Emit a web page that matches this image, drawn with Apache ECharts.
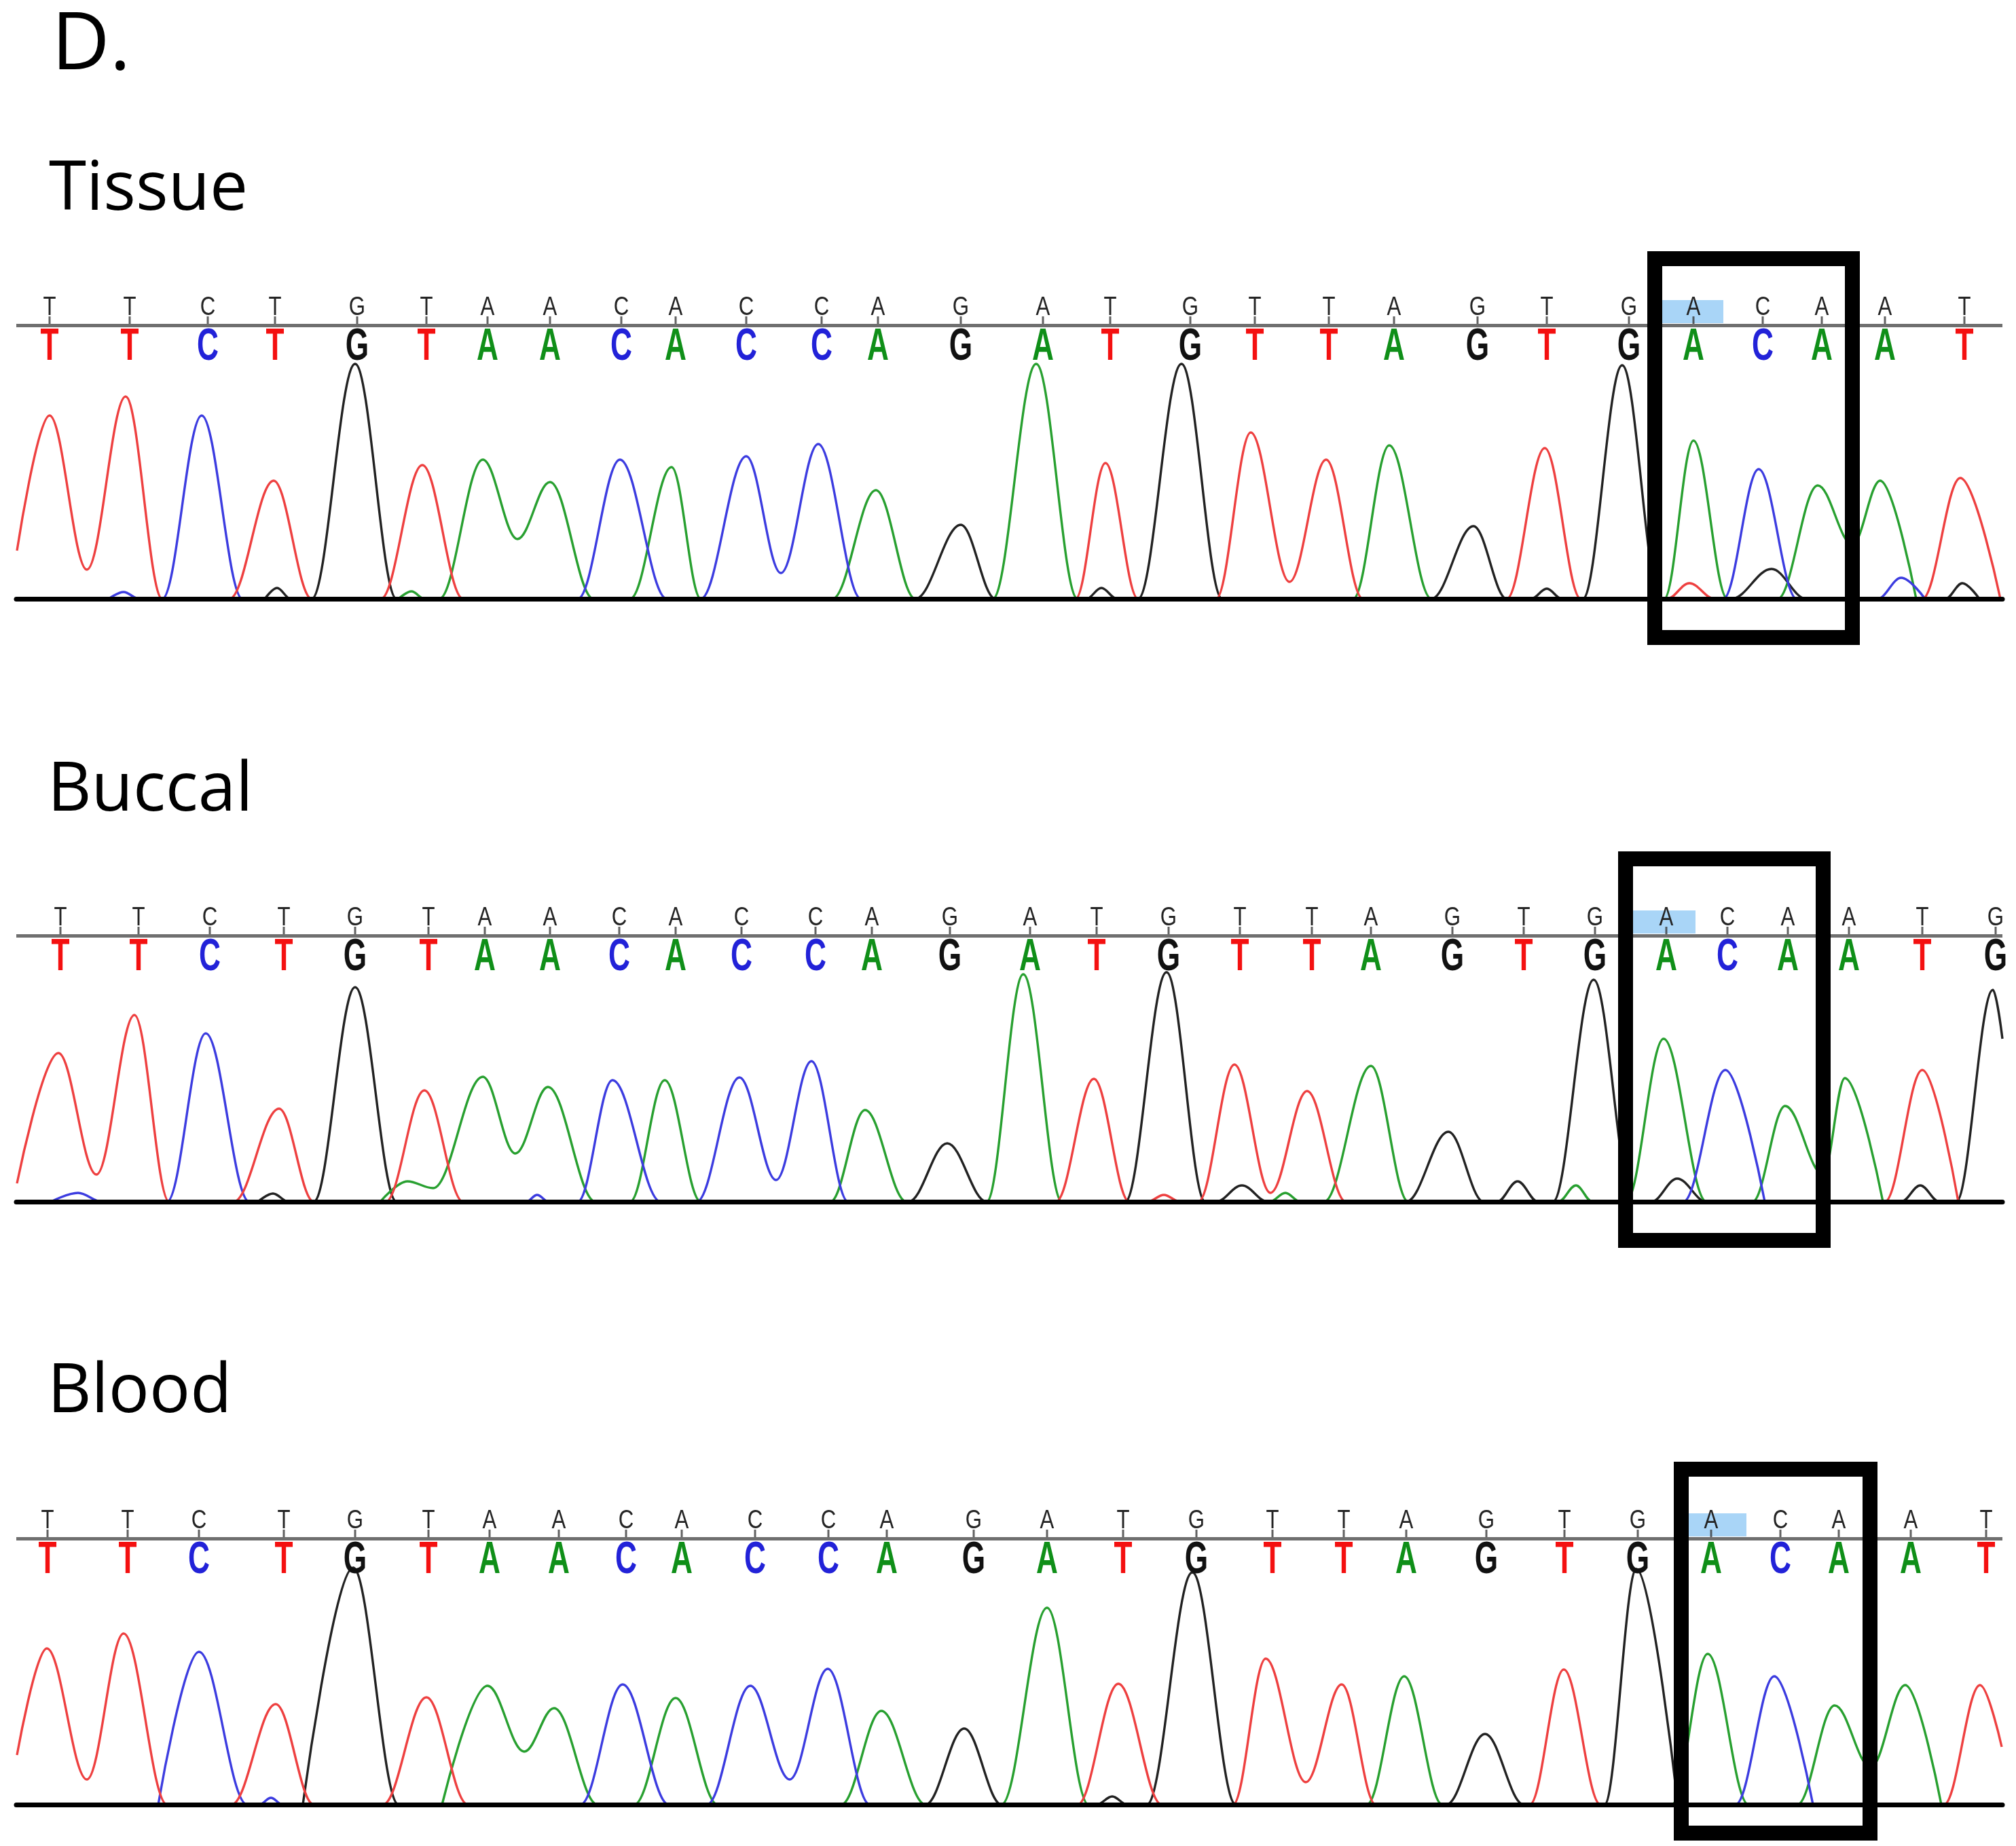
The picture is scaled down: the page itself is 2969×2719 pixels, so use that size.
<!DOCTYPE html>
<html>
<head>
<meta charset="utf-8">
<script src="https://cdn.jsdelivr.net/npm/echarts@6.0.0/dist/echarts.min.js"></script>
<style>html,body{margin:0;padding:0;background:#fff}#c{width:2969px;height:2719px}</style>
</head>
<body>
<div id="c"></div>
<script>
// ---------------- DATA ----------------
// Base calls (identical reference sequence over the three samples)
const tissueSeq = ['T','T','C','T','G','T','A','A','C','A','C','C','A','G','A','T','G','T','T','A','G','T','G','A','C','A','A','T'];
const buccalSeq = ['T','T','C','T','G','T','A','A','C','A','C','C','A','G','A','T','G','T','T','A','G','T','G','A','C','A','A','T','G'];
const bloodSeq  = ['T','T','C','T','G','T','A','A','C','A','C','C','A','G','A','T','G','T','T','A','G','T','G','A','C','A','A','T'];

// Scan positions of the base calls
const tissuePos = [73,191,306,405,526,628,718,810,915,995,1099,1210,1293,1415,1536,1635,1753,1848,1957,2053,2176,2278,2399,2494,2596,2683,2776,2893];
const buccalPos = [89,204,309,418,523,631,714,810,912,995,1092,1201,1284,1399,1517,1615,1721,1826,1932,2019,2139,2244,2349,2454,2544,2633,2723,2831,2939];
const bloodPos  = [70,188,293,418,523,631,721,823,922,1004,1112,1220,1306,1434,1542,1654,1762,1874,1979,2071,2189,2304,2412,2520,2622,2708,2814,2925];

// Traces: [scan, signal]
const tissueT = [[25,71],[73,270],[128,43],[185,298],[239,0],[338,0],[403,174],[459,0],[561,0],[622,197],[682,0],[1584,0],[1628,200],[1676,0],[1791,0],[1842,245],[1899,25],[1953,205],[2007,0],[2219,0],[2275,222],[2328,0],[2455,0],[2488,23],[2525,0],[2831,0],[2887,178],[2946,0]];
const tissueC = [[160,0],[182,10],[205,0],[239,0],[297,270],[357,0],[851,0],[913,205],[982,0],[1032,0],[1099,210],[1150,38],[1205,228],[1268,0],[2538,0],[2590,191],[2646,0],[2765,0],[2800,31],[2835,0]];
const tissueG = [[390,0],[408,16],[428,0],[459,0],[523,346],[584,0],[1348,0],[1415,109],[1466,0],[1600,0],[1622,16],[1645,0],[1676,0],[1740,346],[1800,0],[2108,0],[2170,107],[2219,0],[2255,0],[2278,15],[2300,0],[2331,0],[2389,344],[2445,0],[2550,0],[2609,44],[2660,0],[2865,0],[2890,23],[2915,0]];
const tissueA = [[587,0],[606,11],[625,0],[647,0],[711,205],[762,88],[810,172],[874,0],[928,0],[989,194],[1032,0],[1226,0],[1290,160],[1348,0],[1462,0],[1526,346],[1587,0],[1993,0],[2046,226],[2108,0],[2451,0],[2494,233],[2544,0],[2618,0],[2677,167],[2728,80],[2769,174],[2822,0]];

const buccalT = [[25,27],[86,219],[142,40],[198,275],[249,0],[344,0],[411,137],[462,0],[568,0],[625,164],[682,0],[1555,0],[1611,181],[1663,0],[1690,0],[1714,10],[1738,0],[1765,0],[1818,202],[1871,13],[1925,163],[1982,0],[2776,0],[2831,194],[2884,0]];
const buccalC = [[75,0],[115,13],[150,0],[246,0],[303,248],[367,0],[775,0],[791,10],[808,0],[851,0],[902,179],[973,0],[1026,0],[1089,183],[1143,32],[1195,207],[1249,0],[2479,0],[2541,194],[2599,0]];
const buccalG = [[380,0],[402,12],[425,0],[462,0],[523,316],[584,0],[1338,0],[1395,86],[1453,0],[1657,0],[1718,338],[1775,0],[1791,0],[1829,24],[1867,0],[2071,0],[2133,103],[2185,0],[2205,0],[2235,30],[2265,0],[2287,0],[2347,327],[2405,0],[2432,0],[2470,34],[2513,0],[2800,0],[2828,24],[2856,0],[2881,0],[2935,312],[2949,240]];
const buccalA = [[560,0],[600,30],[638,20],[711,184],[759,71],[807,169],[877,0],[928,0],[979,179],[1032,0],[1223,0],[1274,135],[1335,0],[1453,0],[1507,335],[1564,0],[1870,0],[1893,13],[1915,0],[1950,0],[2019,200],[2074,0],[2295,0],[2321,24],[2345,0],[2395,0],[2450,240],[2513,0],[2581,0],[2629,141],[2685,40],[2717,182],[2773,0]];

const bloodT = [[25,73],[69,230],[128,37],[182,252],[246,0],[341,0],[406,148],[462,0],[564,0],[628,158],[689,0],[1587,0],[1647,178],[1711,0],[1816,0],[1864,215],[1923,33],[1976,177],[2026,0],[2253,0],[2303,199],[2357,0],[2863,0],[2916,176],[2948,85]];
const bloodC = [[233,0],[293,225],[364,0],[382,0],[399,10],[416,0],[855,0],[917,177],[985,0],[1041,0],[1105,175],[1163,37],[1219,200],[1281,0],[2556,0],[2613,189],[2670,0]];
const bloodG = [[446,0],[520,349],[587,0],[1363,0],[1420,112],[1475,0],[1615,0],[1638,12],[1660,0],[1689,0],[1756,342],[1820,0],[2130,0],[2187,104],[2244,0],[2363,0],[2410,347],[2471,0]];
const bloodA = [[651,0],[718,175],[772,78],[816,142],[880,0],[934,0],[995,157],[1057,0],[1239,0],[1298,138],[1363,0],[1475,0],[1542,290],[1603,0],[2013,0],[2068,189],[2124,0],[2462,0],[2515,222],[2575,0],[2647,0],[2702,146],[2755,55],[2806,176],[2859,0]];

// ---------------- STYLE / LAYOUT ----------------
const TRACE_COLOR = {T:'#ee4040', C:'#3c3ce0', G:'#222222', A:'#28a030'};
const CALL_COLOR  = {T:'#f41010', C:'#2222d8', G:'#111111', A:'#0f8f18'};
const W = 2969;
const GRID_LEFT = 24, GRID_RIGHT = 20;
const X_MIN = GRID_LEFT, X_MAX = W - GRID_RIGHT;

const panels = [
  {name:'Tissue', seq:tissueSeq, pos:tissuePos, traces:{T:tissueT,C:tissueC,G:tissueG,A:tissueA},
   baseline:882, top:355, bottom:965, line:403, titleY:281, box:[2437,2728,501,-57], hl:[2448,2538]},
  {name:'Buccal', seq:buccalSeq, pos:buccalPos, traces:{T:buccalT,C:buccalC,G:buccalG,A:buccalA},
   baseline:1770, top:1240, bottom:1855, line:392, titleY:1166, box:[2394,2685,505,-57], hl:[2405,2497]},
  {name:'Blood', seq:bloodSeq, pos:bloodPos, traces:{T:bloodT,C:bloodC,G:bloodG,A:bloodA},
   baseline:2658, top:2135, bottom:2719, line:392, titleY:2052, box:[2476,2754,494,-42], hl:[2486,2572]}
];

function letterSeries(i, p, dy, font, sx, colorFn, z) {
  return {type:'custom', coordinateSystem:'cartesian2d', xAxisIndex:i, yAxisIndex:i, silent:true, z:z,
    data:p.pos.map(x => [x, p.line]),
    renderItem:(params, api) => {
      const pt = api.coord([api.value(0), api.value(1)]);
      const b = p.seq[params.dataIndex];
      return {type:'text', x:pt[0], y:pt[1] + dy, scaleX:sx,
        style:{text:b, fill:colorFn(b), font:font, align:'center', verticalAlign:'middle'}};
    }};
}

const grid = [], xAxis = [], yAxis = [], series = [];
panels.forEach((p, i) => {
  grid.push({left:GRID_LEFT, right:GRID_RIGHT, top:p.top, height:p.bottom - p.top, containLabel:false});
  xAxis.push({type:'value', gridIndex:i, min:X_MIN, max:X_MAX, z:6,
    axisLine:{show:true, onZero:true, lineStyle:{color:'#000', width:7}},
    axisTick:{show:false}, axisLabel:{show:false}, splitLine:{show:false}});
  yAxis.push({type:'value', gridIndex:i, min:p.baseline - p.bottom, max:p.baseline - p.top, show:false, splitLine:{show:false}});

  ['G','A','C','T'].forEach((b, k) => {
    const s = {type:'line', name:p.name + ' ' + b, xAxisIndex:i, yAxisIndex:i, data:p.traces[b],
      smooth:0.36, smoothMonotone:'x', showSymbol:false, symbol:'none', silent:true,
      lineStyle:{color:TRACE_COLOR[b], width:3.4}, z:2, clip:false};
    if (k === 0) {
      s.markLine = {silent:true, symbol:'none', z:5, label:{show:false},
        lineStyle:{color:'#6f6f6f', width:5, type:'solid'}, data:[{yAxis:p.line}], animation:false};
    }
    if (k === 3) {
      s.markArea = {silent:true, z:10, label:{show:false},
        itemStyle:{color:'rgba(0,0,0,0)', borderColor:'#000', borderWidth:22},
        data:[[{coord:[p.box[0], p.box[2]]}, {coord:[p.box[1], p.box[3]]}]]};
    }
    series.push(s);
  });

  // ticks from the reference letters down to the grey line (+ highlighted variant position)
  series.push({type:'scatter', xAxisIndex:i, yAxisIndex:i, silent:true, z:4,
    data:p.pos.map(x => [x, p.line]), symbol:'rect', symbolSize:[3,12], symbolOffset:[0,-7],
    itemStyle:{color:'#3a3a3a'},
    markArea:{silent:true, label:{show:false}, itemStyle:{color:'#a9d5f7'},
      data:[[{coord:[p.hl[0], p.line + 3]}, {coord:[p.hl[1], p.line + 37]}]]}});
  // small reference letters
  series.push(letterSeries(i, p, -26, '400 39px "Liberation Sans"', 0.8, () => '#242424', 5));
  // coloured base calls
  series.push(letterSeries(i, p, 33, '700 67px "Liberation Sans"', 0.66, b => CALL_COLOR[b], 5));
});

const graphic = [
  {type:'text', style:{x:76, y:68, text:'D.', font:'400 118px "Open Sans"', fill:'#000', verticalAlign:'middle'}},
].concat(panels.map((p, i) => ({type:'text', style:{x:i === 0 ? 72 : 70, y:p.titleY, text:p.name,
  font:'400 100px "Open Sans"', fill:'#000', verticalAlign:'middle'}})));

const chart = echarts.init(document.getElementById('c'), null, {renderer:'canvas'});
chart.setOption({animation:false, backgroundColor:'#fff', grid, xAxis, yAxis, series, graphic});
</script>
</body>
</html>
